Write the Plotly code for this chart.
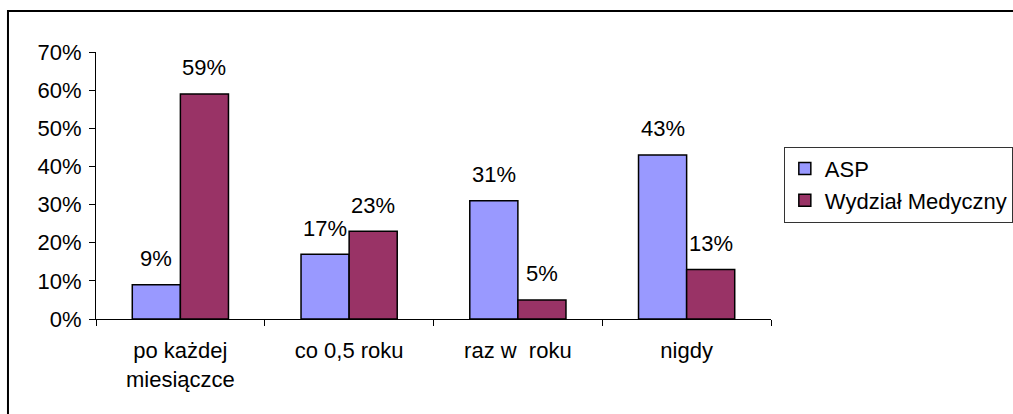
import plotly.graph_objects as go

# Survey data
categories = ["po każdej<br>miesiączce", "co 0,5 roku", "raz w  roku", "nigdy"]
asp_values = [0.09, 0.17, 0.31, 0.43]
wm_values = [0.59, 0.23, 0.05, 0.13]
series_names = ["ASP", "Wydział Medyczny"]
y_ticks = [0, 0.1, 0.2, 0.3, 0.4, 0.5, 0.6, 0.7]
y_tick_labels = ["0%", "10%", "20%", "30%", "40%", "50%", "60%", "70%"]

FONT = "Liberation Sans, Arial, sans-serif"
FS = 22
ASP_COLOR = "#9999FF"
WM_COLOR = "#993366"

fig = go.Figure()
fig.add_trace(go.Bar(
    x=categories, y=asp_values, name=series_names[0], legendgroup="a",
    marker=dict(color=ASP_COLOR, line=dict(color="#000000", width=1.5)),
))
fig.add_trace(go.Bar(
    x=categories, y=wm_values, name=series_names[1], legendgroup="b",
    marker=dict(color=WM_COLOR, line=dict(color="#000000", width=1.5)),
))

# Value labels above each bar
annotations = []
for i, cat in enumerate(categories):
    for vals, shift in ((asp_values, -0.5), (wm_values, 0.5)):
        annotations.append(dict(
            x=i + shift * 0.285, y=vals[i], xref="x", yref="y",
            text=f"{round(vals[i] * 100)}%", showarrow=False,
            yanchor="middle", yshift=26,
            font=dict(family=FONT, size=FS, color="#000000"),
        ))

fig.update_layout(
    width=1013, height=414,
    margin=dict(l=96, r=242, t=52, b=95, autoexpand=False),
    paper_bgcolor="#FFFFFF", plot_bgcolor="#FFFFFF",
    barmode="group", bargap=0.43, bargroupgap=0,
    font=dict(family=FONT, size=FS, color="#000000"),
    showlegend=True,
    legend=dict(
        x=1.019, y=0.645, xanchor="left", yanchor="top",
        bordercolor="#333333", borderwidth=1, bgcolor="#FFFFFF",
        font=dict(family=FONT, size=FS, color="#000000"),
        tracegroupgap=0, itemclick=False, itemwidth=30,
    ),
    annotations=annotations,
    shapes=[dict(
        type="rect", xref="paper", yref="paper",
        x0=-0.1304, x1=1.37, y0=-0.4, y1=1.1536,
        line=dict(color="#000000", width=2), fillcolor="rgba(0,0,0,0)",
        layer="below",
    )],
)

fig.update_xaxes(
    type="category", showgrid=False, zeroline=False,
    showline=True, linecolor="#000000", linewidth=1,
    ticks="outside", tickson="boundaries", ticklen=6, tickcolor="#000000",
    tickfont=dict(family=FONT, size=FS), range=[-0.5, 3.5],
    ticklabelstandoff=12, automargin=False,
)
fig.update_yaxes(
    range=[0, 0.7], tickvals=y_ticks, ticktext=y_tick_labels,
    showgrid=False, zeroline=False,
    showline=True, linecolor="#000000", linewidth=1,
    ticks="outside", ticklen=6, tickcolor="#000000",
    tickfont=dict(family=FONT, size=FS), ticklabelstandoff=3, automargin=False,
)

fig.write_html("out.html")
